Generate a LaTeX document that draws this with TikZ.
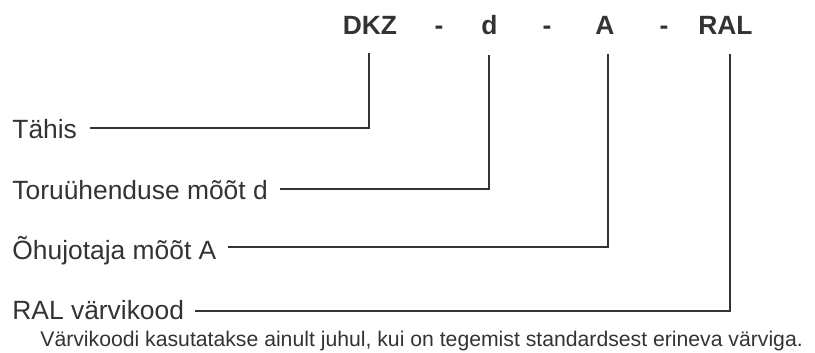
\documentclass[tikz,border=0pt]{standalone}
\usepackage{fontspec}
\setmainfont{Liberation Sans}
\usetikzlibrary{calc}
\definecolor{ink}{HTML}{333333}
\begin{document}
\begin{tikzpicture}[x=0.5pt,y=-0.5pt,
  lbl/.style={anchor=base west,inner sep=0pt,text=ink,font=\fontsize{13.2}{15}\selectfont},
  key/.style={anchor=base,inner sep=0pt,text=ink,font=\fontsize{13.2}{15}\selectfont\bfseries},
  note/.style={anchor=base west,inner sep=0pt,text=ink,font=\fontsize{10.6}{12}\selectfont},
  conn/.style={draw=ink,line width=1pt}]
\useasboundingbox (0,0) rectangle (815,353);
% top code
\node[key] (k1) at (370,35) {DKZ};
\node[key] (s1) at (439,35) {-};
\node[key] (k2) at (489.5,35) {d};
\node[key] (s2) at (547,35) {-};
\node[key] (k3) at (605,35) {A};
\node[key] (s3) at (664,35) {-};
\node[key] (k4) at (725.5,35) {RAL};
% labels
\node[lbl] (t1) at (12,139) {Tähis};
\node[lbl] (t2) at (12,199) {Toruühenduse mõõt d};
\node[lbl] (t3) at (12,259) {Õhujotaja mõõt A};
\node[lbl] (t4) at (12,320) {RAL värvikood};
\node[note] (n) at (40,346) {Värvikoodi kasutatakse ainult juhul, kui on tegemist standardsest erineva värviga.};
% connectors
\draw[conn] ($(t1.base east)+(13,-11)$) -| ($(k1.base)+(-1,18)$);
\draw[conn] ($(t2.base east)+(12,-10)$) -| ($(k2.base)+(-0.5,20)$);
\draw[conn] ($(t3.base east)+(11,-12)$) -| ($(k3.base)+(3,19)$);
\draw[conn] ($(t4.base east)+(11,-9)$) -| ($(k4.base)+(4.5,19)$);
\end{tikzpicture}
\end{document}
